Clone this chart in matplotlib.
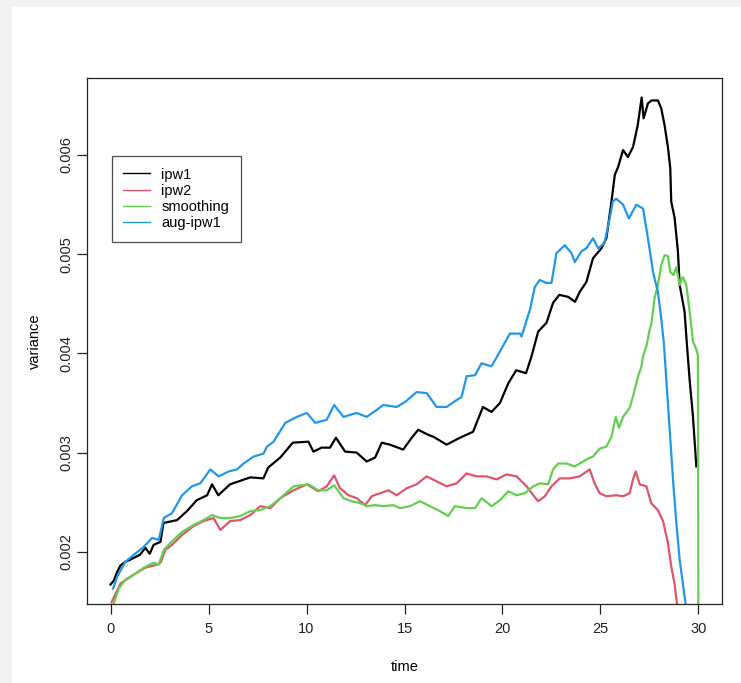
import matplotlib
matplotlib.use('Agg')
import matplotlib.pyplot as plt
from matplotlib.lines import Line2D
from matplotlib.patches import Rectangle

plt.rcParams['font.family'] = ['Liberation Sans', 'DejaVu Sans']

# variance estimates over time (values in units of 1e-3)
IPW1_TIME = [0.0, 0.17, 0.3, 0.5, 0.76, 1.0, 1.5, 1.78, 2.0, 2.2, 2.55, 2.7, 3.4, 3.9, 4.4, 4.93,
             5.18, 5.5, 6.1, 7.13, 7.8, 8.05, 8.66, 9.3, 10.1, 10.35, 10.78, 11.2, 11.5, 11.97,
             12.56, 13.07, 13.5, 13.84, 14.26, 14.93, 15.37, 15.7, 16.2, 16.47, 17.15, 17.83,
             18.5, 19.0, 19.44, 19.87, 20.3, 20.7, 21.2, 21.48, 21.82, 22.25, 22.58, 22.9,
             23.35, 23.7, 23.94, 24.28, 24.62, 25.05, 25.3, 25.56, 25.73, 25.9, 26.15, 26.4,
             26.66, 26.9, 27.1, 27.2, 27.42, 27.6, 27.93, 28.1, 28.27, 28.44, 28.56, 28.61,
             28.78, 28.95, 29.04, 29.29, 29.41, 29.55, 29.72, 29.89]
IPW1_VAR = [1.67, 1.71, 1.78, 1.86, 1.90, 1.92, 1.97, 2.04, 1.98, 2.07, 2.10, 2.29, 2.32, 2.41,
            2.52, 2.57, 2.68, 2.57, 2.68, 2.75, 2.74, 2.85, 2.95, 3.10, 3.11, 3.01, 3.05, 3.05,
            3.15, 3.01, 3.00, 2.91, 2.95, 3.10, 3.08, 3.03, 3.15, 3.23, 3.18, 3.16, 3.08, 3.15,
            3.21, 3.46, 3.41, 3.50, 3.70, 3.83, 3.80, 3.97, 4.22, 4.31, 4.51, 4.59, 4.57, 4.52,
            4.62, 4.72, 4.96, 5.06, 5.16, 5.53, 5.80, 5.88, 6.05, 5.98, 6.08, 6.30, 6.58, 6.37,
            6.52, 6.55, 6.55, 6.47, 6.30, 6.08, 5.87, 5.53, 5.37, 5.03, 4.69, 4.42, 4.09, 3.73,
            3.36, 2.86]

IPW2_TIME = [0.05, 0.51, 1.19, 1.78, 2.37, 2.55, 2.8, 3.14, 3.65, 4.24, 4.75, 5.26, 5.6, 6.11,
             6.62, 7.13, 7.64, 8.15, 8.66, 9.34, 10.02, 10.6, 11.03, 11.41, 11.71, 12.14, 12.56,
             12.99, 13.33, 13.75, 14.18, 14.6, 15.11, 15.62, 16.13, 16.64, 17.15, 17.66, 18.17,
             18.68, 19.19, 19.7, 20.21, 20.72, 21.23, 21.57, 21.82, 22.16, 22.5, 22.92, 23.43,
             23.94, 24.45, 24.7, 24.96, 25.3, 25.81, 26.15, 26.49, 26.66, 26.8, 27.0, 27.34,
             27.59, 27.93, 28.19, 28.44, 28.61, 28.78, 28.9, 28.95]
IPW2_VAR = [1.49, 1.68, 1.77, 1.84, 1.87, 1.89, 2.02, 2.07, 2.17, 2.26, 2.31, 2.34, 2.22, 2.31,
            2.32, 2.37, 2.46, 2.44, 2.54, 2.62, 2.68, 2.61, 2.66, 2.77, 2.64, 2.57, 2.54, 2.47,
            2.56, 2.59, 2.62, 2.57, 2.64, 2.68, 2.76, 2.71, 2.66, 2.69, 2.79, 2.76, 2.76, 2.73,
            2.78, 2.76, 2.66, 2.57, 2.51, 2.56, 2.66, 2.74, 2.74, 2.76, 2.83, 2.69, 2.59, 2.56,
            2.57, 2.56, 2.59, 2.73, 2.81, 2.68, 2.66, 2.49, 2.42, 2.31, 2.09, 1.85, 1.68, 1.48,
            1.40]

SMOOTH_TIME = [0.0, 0.17, 0.42, 0.76, 1.19, 1.70, 2.21, 2.46, 2.72, 3.06, 3.65, 3.82, 4.24, 4.75,
               5.18, 5.6, 6.11, 6.62, 7.13, 7.64, 8.15, 8.66, 9.34, 10.1, 10.6, 11.03, 11.41,
               11.89, 12.31, 12.74, 13.07, 13.5, 13.92, 14.43, 14.77, 15.28, 15.79, 16.3, 16.81,
               17.23, 17.57, 18.17, 18.6, 18.93, 19.44, 19.87, 20.3, 20.72, 21.14, 21.57, 21.9,
               22.33, 22.58, 22.84, 23.27, 23.69, 24.11, 24.37, 24.62, 24.96, 25.3, 25.56, 25.78,
               25.94, 26.15, 26.49, 26.66, 26.92, 27.09, 27.17, 27.34, 27.51, 27.59, 27.76, 27.93,
               28.1, 28.27, 28.44, 28.56, 28.73, 28.87, 29.04, 29.2, 29.38, 29.55, 29.72, 29.89,
               29.97, 30.0]
SMOOTH_VAR = [1.40, 1.48, 1.63, 1.72, 1.77, 1.84, 1.89, 1.87, 2.02, 2.09, 2.20, 2.22, 2.27, 2.32,
              2.37, 2.34, 2.34, 2.36, 2.41, 2.42, 2.46, 2.54, 2.66, 2.68, 2.62, 2.62, 2.67, 2.54,
              2.51, 2.49, 2.46, 2.47, 2.46, 2.47, 2.44, 2.46, 2.51, 2.46, 2.41, 2.36, 2.46, 2.44,
              2.44, 2.54, 2.46, 2.52, 2.61, 2.57, 2.59, 2.66, 2.69, 2.68, 2.83, 2.89, 2.89, 2.86,
              2.91, 2.94, 2.96, 3.04, 3.06, 3.16, 3.36, 3.25, 3.36, 3.45, 3.57, 3.77, 3.87, 3.97,
              4.07, 4.24, 4.29, 4.56, 4.69, 4.89, 4.99, 4.98, 4.82, 4.79, 4.87, 4.69, 4.77, 4.69,
              4.42, 4.12, 4.04, 3.98, 1.00]

AUG_TIME = [0.13, 0.34, 0.76, 1.19, 1.70, 2.12, 2.46, 2.72, 3.14, 3.65, 4.16, 4.58, 5.09, 5.52,
            6.03, 6.45, 6.79, 7.30, 7.81, 7.98, 8.32, 8.92, 9.51, 10.02, 10.44, 11.03, 11.41,
            11.89, 12.56, 13.07, 13.58, 13.92, 14.6, 15.03, 15.62, 16.13, 16.64, 17.15, 17.66,
            17.91, 18.17, 18.6, 18.93, 19.44, 19.87, 20.38, 20.89, 20.97, 21.4, 21.65, 21.9,
            22.25, 22.5, 22.75, 23.18, 23.52, 23.69, 24.03, 24.28, 24.62, 24.88, 25.2, 25.47,
            25.63, 25.8, 26.15, 26.45, 26.83, 27.17, 27.34, 27.5, 27.68, 27.93, 28.1, 28.24,
            28.36, 28.53, 28.7, 28.87, 29.04, 29.29, 29.4]
AUG_VAR = [1.63, 1.75, 1.90, 1.97, 2.05, 2.14, 2.12, 2.34, 2.39, 2.57, 2.66, 2.69, 2.83, 2.76,
           2.81, 2.83, 2.89, 2.96, 2.99, 3.06, 3.11, 3.30, 3.36, 3.40, 3.30, 3.33, 3.48, 3.36,
           3.40, 3.36, 3.43, 3.48, 3.46, 3.51, 3.61, 3.60, 3.46, 3.46, 3.53, 3.56, 3.77, 3.78,
           3.90, 3.87, 4.02, 4.20, 4.20, 4.17, 4.44, 4.67, 4.74, 4.71, 4.71, 5.01, 5.09, 5.01,
           4.92, 5.03, 5.06, 5.16, 5.06, 5.11, 5.36, 5.53, 5.56, 5.50, 5.36, 5.50, 5.46, 5.26,
           5.06, 4.82, 4.62, 4.35, 4.09, 3.73, 3.23, 2.73, 2.29, 1.92, 1.55, 1.40]

SERIES = [
    ('ipw1', IPW1_TIME, IPW1_VAR, 'black'),
    ('ipw2', IPW2_TIME, IPW2_VAR, '#DF536B'),
    ('smoothing', SMOOTH_TIME, SMOOTH_VAR, '#61D04F'),
    ('aug-ipw1', AUG_TIME, AUG_VAR, '#2297E6'),
]
X_TICKS = [0, 5, 10, 15, 20, 25, 30]
Y_TICKS = [0.002, 0.003, 0.004, 0.005, 0.006]


def padded(lo, hi, frac=0.04):
    pad = (hi - lo) * frac
    return lo - pad, hi + pad


def main():
    fig = plt.figure(figsize=(7.41, 6.83), dpi=100)
    # light frame strip along the left and top edges
    fig.patches.append(Rectangle((0, 0), 12 / 741, 1, transform=fig.transFigure,
                                 facecolor='#f1f1f1', edgecolor='none'))
    fig.patches.append(Rectangle((0, 1 - 7 / 683), 1, 7 / 683, transform=fig.transFigure,
                                 facecolor='#f1f1f1', edgecolor='none'))

    ax = fig.add_axes([87 / 741, 79 / 683, 635 / 741, 526 / 683])
    for name, t, v, color in SERIES:
        ax.plot(t, [x / 1000 for x in v], color=color, linewidth=1.6, label=name)

    ax.set_xlim(*padded(0, 30))
    ax.set_ylim(*padded(min(IPW1_VAR) / 1000, max(IPW1_VAR) / 1000))

    ax.set_xticks(X_TICKS)
    ax.set_xticklabels([str(x) for x in X_TICKS])
    ax.set_yticks(Y_TICKS)
    ax.set_yticklabels([f'{y:.3f}' for y in Y_TICKS], rotation=90, va='center')
    ax.tick_params(direction='out', length=7, width=0.9, labelsize=10.5, pad=6,
                   colors='#222222')
    ax.tick_params(axis='y', pad=3)
    for spine in ax.spines.values():
        spine.set_linewidth(0.9)
        spine.set_color('#222222')

    ax.set_xlabel('time', fontsize=10.5, labelpad=17)
    ax.set_ylabel('variance', fontsize=10.5, labelpad=12)

    handles = [Line2D([], [], color=c, linewidth=1.0) for _, _, _, c in SERIES]
    leg = ax.legend(handles, [s[0] for s in SERIES], loc='upper left',
                    bbox_to_anchor=(0.039, 0.852), fontsize=10.5, frameon=True,
                    fancybox=False, handlelength=1.8, handletextpad=0.8,
                    borderpad=0.8, labelspacing=0.15, borderaxespad=0)
    leg.get_frame().set_edgecolor('#222222')
    leg.get_frame().set_linewidth(0.9)

    fig.savefig('out.png', dpi=100)


if __name__ == '__main__':
    main()
